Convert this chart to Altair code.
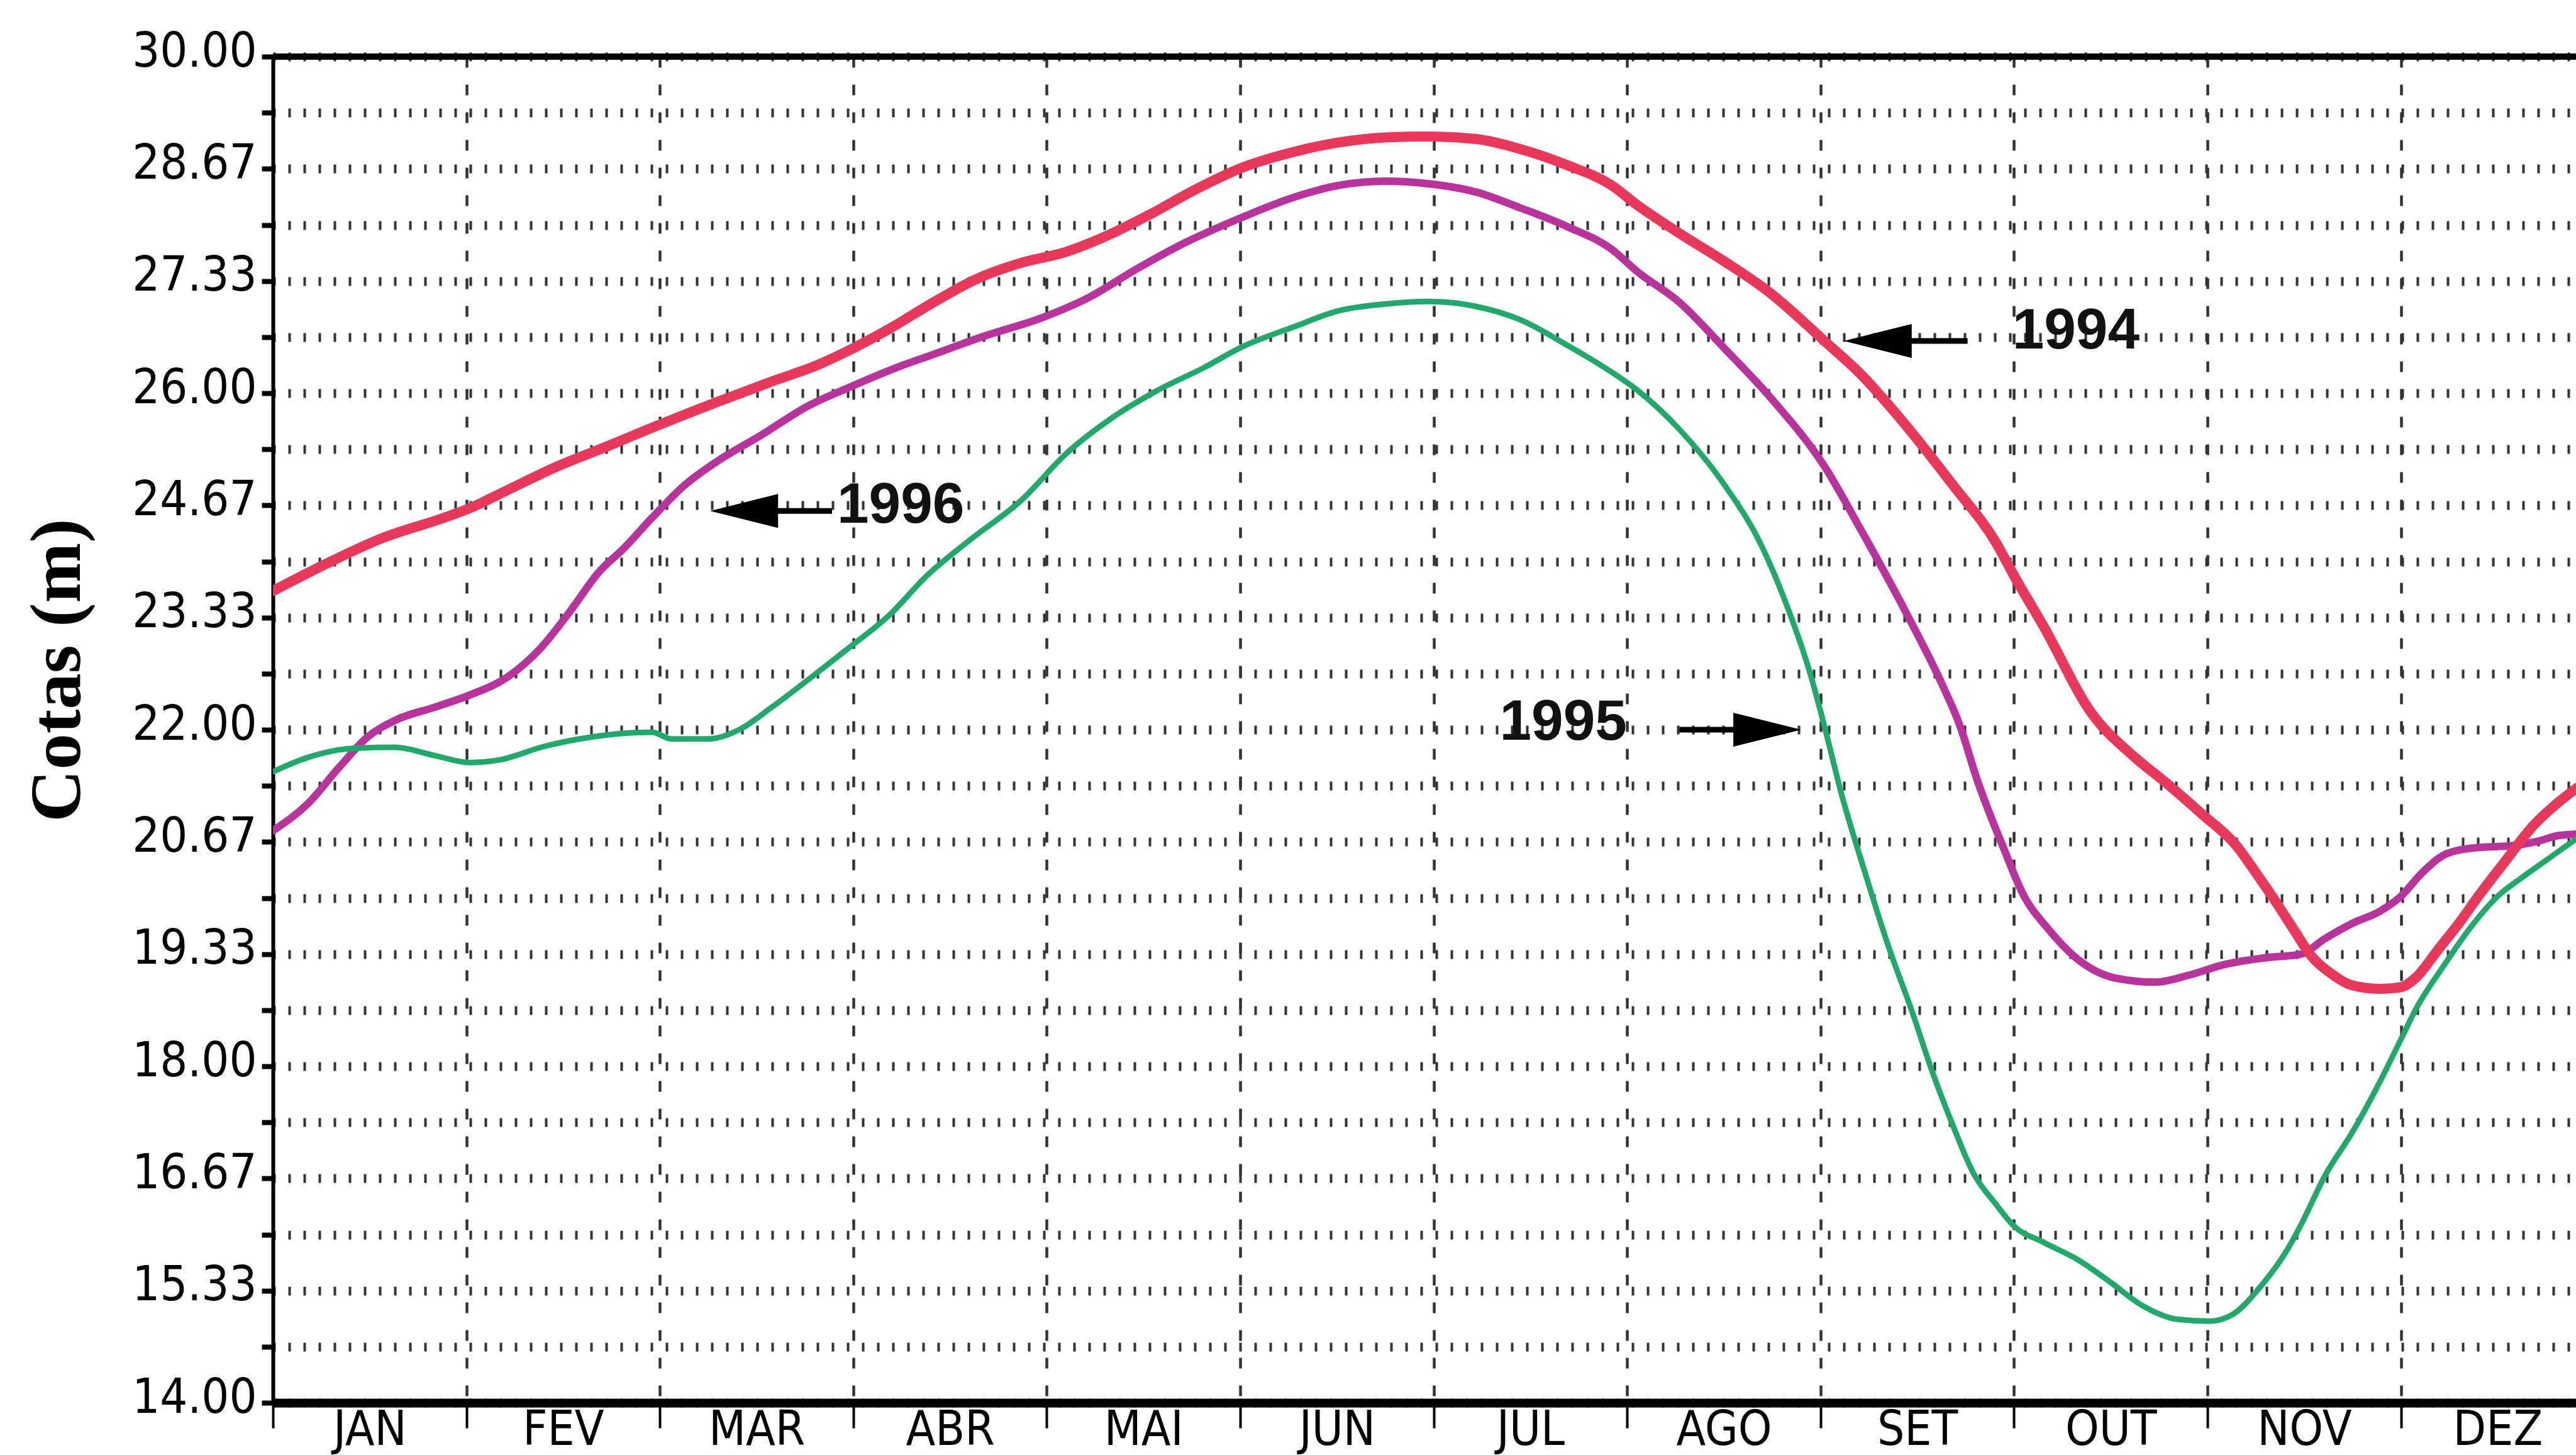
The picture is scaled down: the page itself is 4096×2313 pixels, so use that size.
import altair as alt
import pandas as pd

# ---------------- data ----------------
months = ["JAN", "FEV", "MAR", "ABR", "MAI", "JUN", "JUL", "AGO", "SET", "OUT", "NOV", "DEZ"]

m_1994 = [0.0, 0.30, 0.557, 0.885, 1.015, 1.17, 1.47, 1.73, 1.96, 2.29, 2.58, 2.81, 2.97,
          3.19, 3.40, 3.64, 3.87, 4.10, 4.29, 4.53, 4.76, 5.01, 5.28, 5.51, 5.75, 5.97,
          6.22, 6.45, 6.69, 6.92, 7.05, 7.27, 7.50, 7.74, 8.02, 8.21, 8.44, 8.68, 8.91,
          9.00, 9.15, 9.40, 9.62, 9.78, 9.97, 10.15, 10.25, 10.36, 10.45, 10.53, 10.64,
          10.75, 10.89, 11.00, 11.08, 11.19, 11.30, 11.40, 11.54, 11.68, 11.81, 11.91]
v_1994 = [23.65, 24.00, 24.27, 24.52, 24.63, 24.80, 25.13, 25.37, 25.59, 25.89, 26.14, 26.33, 26.50,
          26.77, 27.06, 27.36, 27.55, 27.68, 27.85, 28.12, 28.41, 28.68, 28.87, 28.98, 29.04, 29.05,
          29.02, 28.90, 28.71, 28.47, 28.24, 27.90, 27.57, 27.19, 26.62, 26.22, 25.62, 24.92, 24.21,
          23.83, 23.24, 22.20, 21.68, 21.38, 21.00, 20.62, 20.30, 19.93, 19.61, 19.33, 19.10,
          18.96, 18.92, 18.94, 19.06, 19.38, 19.70, 20.02, 20.44, 20.85, 21.13, 21.31]

m_1996 = [0.0, 0.18, 0.345, 0.487, 0.63, 0.84, 1.015, 1.215, 1.38, 1.54, 1.68, 1.82, 1.96,
          2.13, 2.29, 2.53, 2.76, 2.97, 3.23, 3.40, 3.68, 3.98, 4.22, 4.46, 4.69, 5.01,
          5.28, 5.51, 5.75, 5.97, 6.22, 6.45, 6.69, 6.92, 7.05, 7.27, 7.50, 7.74, 8.02,
          8.21, 8.44, 8.63, 8.72, 8.81, 8.95, 9.05, 9.17, 9.33, 9.52, 9.73, 9.90, 10.09,
          10.30, 10.48, 10.61, 10.75, 10.89, 11.00, 11.11, 11.24, 11.40, 11.57, 11.70, 11.81, 11.91]
v_1996 = [20.80, 21.12, 21.56, 21.91, 22.11, 22.27, 22.41, 22.63, 22.96, 23.42, 23.86, 24.17, 24.52,
          24.91, 25.18, 25.51, 25.84, 26.06, 26.31, 26.45, 26.68, 26.90, 27.14, 27.47, 27.76, 28.09,
          28.33, 28.47, 28.52, 28.49, 28.39, 28.20, 27.98, 27.71, 27.45, 27.08, 26.54, 25.95, 25.13,
          24.37, 23.40, 22.53, 22.05, 21.40, 20.57, 20.03, 19.65, 19.27, 19.05, 19.00, 19.08, 19.21,
          19.29, 19.33, 19.52, 19.70, 19.84, 20.02, 20.30, 20.53, 20.60, 20.62, 20.67, 20.74, 20.76]

m_1995 = [0.0, 0.18, 0.42, 0.63, 0.84, 1.015, 1.17, 1.40, 1.64, 1.96, 2.06, 2.25, 2.41,
          2.58, 2.77, 2.97, 3.19, 3.38, 3.60, 3.87, 4.10, 4.34, 4.57, 4.81, 5.01, 5.28,
          5.51, 5.75, 5.97, 6.22, 6.45, 6.69, 6.92, 7.05, 7.27, 7.50, 7.69, 7.83, 7.95,
          8.02, 8.11, 8.23, 8.35, 8.47, 8.58, 8.68, 8.79, 8.91, 9.00, 9.15, 9.33, 9.50,
          9.66, 9.85, 10.01, 10.13, 10.27, 10.41, 10.48, 10.61, 10.75, 10.89, 11.00, 11.08,
          11.22, 11.36, 11.50, 11.63, 11.77, 11.91]
v_1995 = [21.50, 21.67, 21.78, 21.79, 21.69, 21.61, 21.64, 21.80, 21.91, 21.97, 21.89, 21.89, 22.00,
          22.27, 22.60, 22.96, 23.37, 23.83, 24.25, 24.73, 25.28, 25.71, 26.03, 26.30, 26.55, 26.79,
          26.98, 27.06, 27.09, 27.03, 26.87, 26.57, 26.25, 26.04, 25.57, 24.92, 24.21, 23.45, 22.64,
          22.04, 21.22, 20.30, 19.43, 18.67, 17.92, 17.32, 16.73, 16.35, 16.10, 15.91, 15.70, 15.43,
          15.16, 14.99, 14.97, 15.05, 15.37, 15.81, 16.10, 16.71, 17.22, 17.81, 18.32, 18.69,
          19.19, 19.65, 20.02, 20.25, 20.48, 20.71]

years = ["1996", "1995", "1994"]
colors = ["#B8349C", "#22A86C", "#E8385C"]
widths = [12, 9, 16]

# annotations: label text and its position (month, level)
ann_text = ["1994", "1996", "1995"]
ann_x = [9.32, 3.245, 6.67]
ann_y = [26.73, 24.66, 22.08]

# arrows: tip, tail, level, direction
arrow_tip = [8.12, 2.26, 7.90]
arrow_tail = [8.76, 2.89, 7.27]
arrow_y = [26.62, 24.60, 22.00]
arrow_dir = ["left", "left", "right"]

y_ticks = [round(14 + k * 2 / 3, 4) for k in range(25)]
x_ticks = list(range(12))
top_border = [30]

# ---------------- build ----------------
rows = []
for (yr, ms, vs), w in zip([("1996", m_1996, v_1996), ("1995", m_1995, v_1995),
                             ("1994", m_1994, v_1994)], widths):
    for m, v in zip(ms, vs):
        rows.append({"year": yr, "month": m, "value": v, "w": w})
df = pd.DataFrame(rows)

ann = pd.DataFrame({"text": ann_text, "x": ann_x, "y": ann_y})
arr = pd.DataFrame({"tip": arrow_tip, "tail": arrow_tail, "y": arrow_y, "dir": arrow_dir})
border = pd.DataFrame({"value": top_border})

W, H = 3662, 2140
PLOT_FONT = "Liberation Sans Narrow, DejaVu Sans Condensed, Liberation Sans"

x_scale = alt.Scale(domain=[0, 11.905], nice=False, zero=False)
y_scale = alt.Scale(domain=[14, 30], nice=False, zero=False)

month_expr = "[" + ",".join("'%s'" % m for m in months) + "][round(datum.value)]"

x_axis = alt.Axis(
    values=x_ticks, title=None, labelExpr=month_expr, labelOffset=153.8,
    labelFlush=False, labelOverlap=False, labelFont=PLOT_FONT, labelFontSize=76,
    labelColor="black", labelPadding=-34, labelBaseline="top", labelLimit=1000,
    domainWidth=14, domainColor="black", tickSize=40, tickWidth=4, tickColor="black",
    grid=True, gridDash=[17, 27], gridWidth=4.5, gridColor="#333333",
)
y_label_expr = "round((datum.value - 14) * 1.5) % 2 == 0 ? format(datum.value, '.2f') : ''"
y_axis = alt.Axis(
    values=y_ticks, title="Cotas (m)", labelExpr=y_label_expr, labelFlush=False,
    labelOverlap=False, labelFont=PLOT_FONT, labelFontSize=77, labelColor="black",
    labelLimit=1000,
    labelPadding=8, labelOffset=-8, tickSize=18, tickWidth=8, tickColor="black",
    domainWidth=6, domainColor="black",
    grid=True, gridDash=[4, 20], gridWidth=14, gridColor="#333333",
    titleFont="Liberation Serif", titleFontWeight="bold", titleFontSize=115,
    titleColor="black", titleAngle=270, titleX=-343, titleY=975,
    titleAlign="center", titleBaseline="middle",
)


def X(field):
    return alt.X(field, scale=x_scale, axis=x_axis)


def Y(field):
    return alt.Y(field, scale=y_scale, axis=y_axis)


lines = alt.Chart(df).mark_line(interpolate="monotone", clip=True, strokeCap="round",
                                strokeJoin="round").encode(
    x=X("month:Q"),
    y=Y("value:Q"),
    color=alt.Color("year:N", scale=alt.Scale(domain=years, range=colors), legend=None),
    strokeWidth=alt.StrokeWidth("w:Q", scale=None, legend=None),
)

top = alt.Chart(border).mark_rule(color="black", strokeWidth=10).encode(y=Y("value:Q"))

shaft = alt.Chart(arr).transform_calculate(
    start="datum.dir == 'left' ? datum.tip + 0.15 : datum.tip - 0.15"
).mark_rule(color="black", strokeWidth=9).encode(
    x=X("start:Q"), x2="tail:Q", y=Y("y:Q"),
)
head_l = alt.Chart(arr).transform_filter(alt.datum.dir == "left").mark_point(
    shape="M0,0L2,-0.5L2,0.5Z", filled=True, size=11664, color="black", opacity=1
).encode(x=X("tip:Q"), y=Y("y:Q"))
head_r = alt.Chart(arr).transform_filter(alt.datum.dir == "right").mark_point(
    shape="M0,0L-2,-0.5L-2,0.5Z", filled=True, size=11664, color="black", opacity=1
).encode(x=X("tip:Q"), y=Y("y:Q"))

labels = alt.Chart(ann).mark_text(font="Liberation Sans", fontWeight="bold", fontSize=91,
                                  align="center", baseline="middle", color="#111111").encode(
    x=X("x:Q"), y=Y("y:Q"), text="text:N",
)

chart = alt.layer(lines, top, shaft, head_l, head_r, labels).properties(
    width=W, height=H,
    padding={"left": 434, "top": 90, "right": 0, "bottom": 83},
    autosize=alt.AutoSizeParams(type="none"),
    background="white",
).configure_view(stroke="transparent")

chart.save("out.html", embed_options={"renderer": "svg", "actions": False})
